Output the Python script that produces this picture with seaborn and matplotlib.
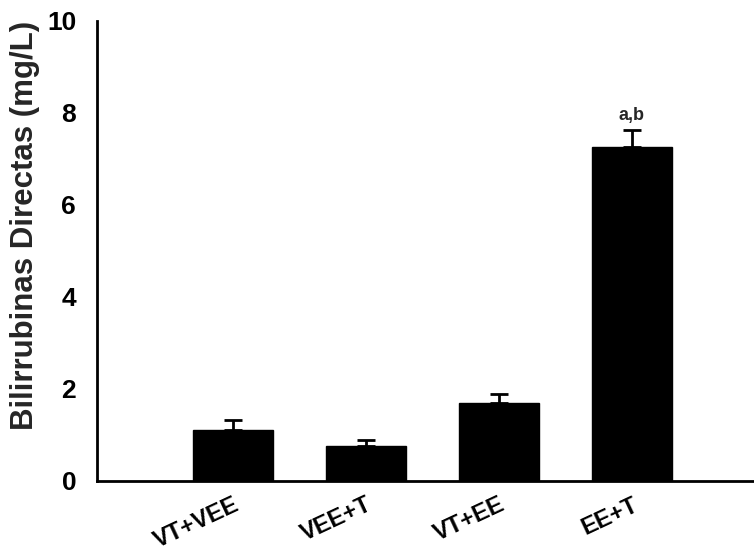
import matplotlib
matplotlib.use("Agg")
import matplotlib.pyplot as plt
import seaborn as sns
import pandas as pd

groups = ["VT+VEE", "VEE+T", "VT+EE", "EE+T"]
values = [1.10, 0.75, 1.69, 7.25]
errors = [0.22, 0.14, 0.19, 0.38]
annotations = ["", "", "", "a,b"]

sns.set_style("white")
plt.rcParams["font.family"] = ["Liberation Sans", "DejaVu Sans"]
plt.rcParams["font.weight"] = "bold"

df = pd.DataFrame({"group": groups, "value": values})

fig = plt.figure(figsize=(7.54, 5.53), dpi=100)
ax = fig.add_axes([0.1286, 0.1307, 0.8714, 0.8319])

sns.barplot(data=df, x="group", y="value", color="black", width=0.6,
            saturation=1, errorbar=None, ax=ax, edgecolor="black")
xs = range(len(groups))
ax.errorbar(list(xs), values, yerr=[[0] * len(errors), errors], fmt="none",
            ecolor="black", elinewidth=2, capsize=6.5, capthick=2)
for x, v, e, t in zip(xs, values, errors, annotations):
    if t:
        ax.text(x, v + e + 0.12, t, ha="center", va="bottom",
                fontsize=13, fontweight="bold")

ax.set_xlim(-1.02, 3.92)
ax.set_ylim(0, 10)
ax.set_yticks([0, 2, 4, 6, 8, 10])
ax.set_xlabel("")
ax.set_ylabel("Bilirrubinas Directas (mg/L)", fontsize=22.5, fontweight="bold",
              labelpad=5)
ax.yaxis.label.set_y(0.555)
for s in ["top", "right"]:
    ax.spines[s].set_visible(False)
for s in ["left", "bottom"]:
    ax.spines[s].set_linewidth(2)
    ax.spines[s].set_color("black")
ax.tick_params(axis="both", direction="out", length=6, width=1.2,
               colors="black", labelsize=19)
ax.tick_params(axis="y", pad=9)
ax.tick_params(axis="x", pad=3)
for lab in ax.get_xticklabels():
    lab.set_rotation(25)
    lab.set_ha("right")
    lab.set_va("top")
    lab.set_rotation_mode("anchor")
    lab.set_fontsize(17)
    lab.set_fontweight("bold")
for lab in ax.get_yticklabels():
    lab.set_fontweight("bold")

fig.savefig("out.png", dpi=100)
